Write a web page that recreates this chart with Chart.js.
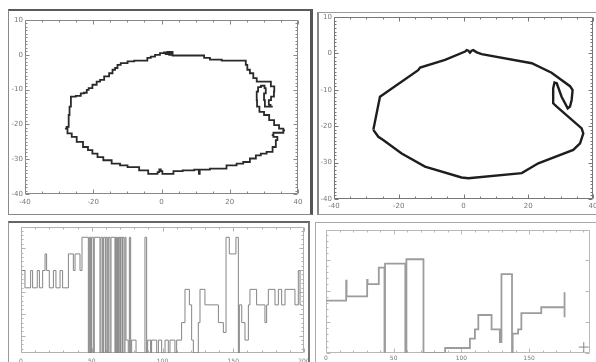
<!DOCTYPE html>
<html>
<head>
<meta charset="utf-8">
<script src="https://cdn.jsdelivr.net/npm/chart.js@4"></script>
<style>
html, body { margin:0; padding:0; background:#fff; }
body { width:596px; height:362px; position:relative; overflow:hidden; }
.box { position:absolute; box-sizing:border-box; }
canvas { position:absolute; }
#boxA { left:8px; top:9px; width:305px; height:206px; border:1px solid #8a8a8a; border-top:2px solid #5a5a5a; border-right:3px solid #555; }
#boxB { left:317px; top:12px; width:300px; height:203px; border:1px solid #9a9a9a; border-left:2px solid #888; }
#boxC { left:8px; top:221px; width:302px; height:160px; border:1px solid #999; border-top:2px solid #666; border-right:2px solid #777; }
#boxD { left:315px; top:222px; width:300px; height:160px; border:1px solid #aaa; }
</style>
</head>
<body>
<div class="box" id="boxA"></div>
<div class="box" id="boxB"></div>
<div class="box" id="boxC"></div>
<div class="box" id="boxD"></div>
<canvas id="outlineA" width="300" height="203" style="left:10px;top:11px"></canvas>
<canvas id="outlineB" width="277" height="199" style="left:319px;top:14px"></canvas>
<canvas id="traceC" width="298" height="139" style="left:10px;top:223px"></canvas>
<canvas id="traceD" width="280" height="138" style="left:316px;top:224px"></canvas>
<script>
//data

// top left: stair-stepped contour
const outlineAX = [-28.3,-27.3,-27.1,-26.8,-26.3,-23.9,-23.4,-22.1,-21.7,-21.0,
	-19.5,-18.5,-17.5,-16.1,-14.6,-14.1,-13.1,-12.7,-11.2,-8.7,
	-7.3,-4.4,-3.9,-2.4,-1.4,0.5,1.0,1.5,2.0,2.5,
	3.0,3.5,9.3,11.8,13.2,15.2,20.1,24.5,24.9,25.4,
	26.4,27.4,28.4,31.3,32.8,33.3,32.6,31.6,31.3,32.6,
	30.8,29.8,30.3,30.8,29.6,28.7,27.9,27.9,28.1,29.3,
	30.8,32.3,33.7,35.2,36.2,35.2,33.3,32.3,33.3,34.2,
	33.7,33.3,31.8,29.8,28.4,26.9,24.9,23.0,21.0,17.1,
	11.3,11.1,10.8,8.4,4.0,3.0,0.5,0.0,-0.4,-0.9,
	-1.4,-3.4,-4.4,-8.7,-11.2,-13.1,-16.1,-18.0,-19.5,-21.0,
	-22.1,-23.9,-25.8,-26.8,-28.3];
const outlineAY = [-21.2,-20.7,-17.3,-14.9,-12.0,-11.8,-11.1,-10.9,-10.1,-9.6,
	-8.6,-7.7,-7.2,-6.2,-5.3,-4.3,-3.8,-2.9,-2.4,-1.9,
	-1.7,-1.7,-0.9,-0.5,0.0,0.5,0.7,0.2,0.8,0.0,
	0.8,-0.2,-0.2,-0.2,-0.9,-1.4,-1.7,-1.7,-2.9,-4.3,
	-5.3,-6.7,-7.7,-7.7,-9.1,-10.6,-12.0,-13.0,-14.4,-14.9,
	-14.9,-13.0,-11.1,-9.6,-8.9,-9.3,-10.6,-13.0,-14.9,-16.4,
	-17.3,-18.8,-20.2,-21.2,-21.7,-22.4,-22.4,-23.1,-23.6,-23.6,
	-24.5,-26.5,-27.9,-28.4,-28.9,-29.8,-30.8,-31.3,-31.8,-32.7,
	-33.0,-34.2,-33.0,-33.2,-33.4,-34.2,-34.2,-33.4,-32.9,-33.7,
	-34.2,-34.2,-33.2,-32.3,-31.8,-31.3,-30.3,-29.4,-28.4,-27.4,
	-26.5,-25.0,-23.6,-22.6,-21.2];

// top right: smoothed contour
const outlineBX = [-27.85,-25.8,-14.0,-13.4,-5.7,0.5,1.0,1.5,2.0,2.5,3.0,4.1,5.6,21.1,27.2,
	32.9,33.7,33.4,32.9,32.2,30.3,28.8,28.1,27.7,27.7,28.8,
	36.5,37.0,36.0,33.9,23.1,18.0,1.5,-0.6,-11.9,-19.1,-24.8,-26.3,-27.85];
const outlineBY = [-21.0,-11.9,-4.6,-3.9,-1.8,0.5,0.9,0.75,0.2,0.75,0.9,0.3,-0.2,-2.7,-5.3,
	-9.0,-10.1,-12.8,-14.6,-15.1,-11.9,-8.2,-8.0,-9.6,-13.7,-14.6,
	-20.6,-22.0,-24.7,-26.5,-30.2,-32.9,-34.3,-34.1,-31.1,-27.5,-23.8,-22.9,-21.0];

const contourTicksX = [-40,-20,0,20,40];
const contourTicksY = [10,0,-10,-20,-30,-40];

// bottom left: step trace
const traceCX = [0.7,2.8,6.8,8.2,11.5,13.0,15.3,17.0,18.1,20.0,22.9,24.7,27.6,29.4,33.5,37.0,38.2,41.7,43.1,
	47.6,48.3,49.2,49.9,51.1,51.8,55.8,56.5,57.7,58.4,59.6,60.1,61.0,61.7,62.9,63.6,
	66.4,66.9,67.6,68.1,68.8,69.3,70.0,70.4,71.4,71.8,72.8,73.5,74.2,75.8,76.6,77.5,78.2,81.3,
	87.6,88.8,89.5,91.6,92.3,95.9,97.1,99.4,101.8,104.1,105.3,108.8,110.0,
	113.5,115.9,119.0,120.6,121.8,125.3,126.5,130.0,139.5,143.0,144.9,147.2,151.9,153.6,
	154.3,156.0,158.3,160.7,161.8,166.5,172.4,173.6,174.8,179.5,181.9,184.2,186.6,193.6,196.0,197.2,198.4];
const traceCY = [3.77,2.98,3.77,2.98,3.77,2.98,3.77,4.53,3.77,2.98,3.77,2.98,3.77,2.98,4.53,3.77,4.53,3.77,5.29,
	0,5.29,0,5.29,0,5.29,0,5.29,0,5.29,0,5.29,0,5.29,0,5.29,
	0,5.29,0,5.29,0,5.29,0,5.29,0,5.29,0,5.29,0.59,0,5.29,0,0.59,0,
	5.29,0,0.59,0,0.59,0,0.59,0,0.59,0,0.59,0,0.59,
	1.39,2.91,2.2,0.59,0,1.39,2.91,2.2,1.39,0.94,5.29,4.53,5.29,0,
	2.2,1.39,0.59,2.2,2.91,2.2,1.39,2.2,2.91,2.2,2.91,2.2,2.91,2.2,3.77,2.2,2.2];
const traceCTicksX = [0,50,100,150,200];

// bottom right: step trace
const traceDX = [0,14.9,15.2,30.4,30.7,39.0,43.2,43.6,58.6,59.4,72.0,88.0,106.3,110.0,112.5,
	122.3,128.4,129.6,137.4,137.9,141.9,144.3,159.0,176.2,176.2];
const traceDY = [1.68,2.32,1.82,2.35,2.21,2.74,0,2.87,0,3.01,0,0.16,0.46,0.76,1.22,
	0.76,0.35,2.53,0,0.62,0.76,1.28,1.47,1.95,1.15];
const traceDTicksX = [0,50,100,150];
const cursorD = [{x:190.4, y:0.19}];


//frame with inward ticks on all four sides

function isMajor(v, base, step){
	const q = (v - base) / step;
	return Math.abs(q - Math.round(q)) < 1e-6;
}

const frameTicks = {
	id: 'frameTicks',
	beforeDatasetsDraw(chart, args, o){
		const ctx = chart.ctx;
		const a = chart.chartArea;
		const xs = chart.scales.x;
		const ys = chart.scales.y;
		const L = Math.round(a.left) + 0.5, R = Math.round(a.right) - 0.5;
		const T = Math.round(a.top) + 0.5, B = Math.round(a.bottom) - 0.5;
		ctx.save();
		ctx.strokeStyle = o.color;
		ctx.lineWidth = 1;
		ctx.beginPath();
		ctx.rect(L, T, R - L, B - T);
		let n = Math.ceil(xs.min / o.xMinor);
		for(let v = n * o.xMinor; v <= xs.max + 1e-9; n++, v = n * o.xMinor){
			const p = Math.round(xs.getPixelForValue(v)) + 0.5;
			const len = isMajor(v, 0, o.xMajor) ? o.big : o.small;
			ctx.moveTo(p, B); ctx.lineTo(p, B - len);
			ctx.moveTo(p, T); ctx.lineTo(p, T + len);
		}
		const yb = o.yBase || 0;
		let k = Math.ceil((ys.min - yb) / o.yMinor);
		for(let v = yb + k * o.yMinor; v <= ys.max + 1e-9; k++, v = yb + k * o.yMinor){
			const p = Math.round(ys.getPixelForValue(v)) + 0.5;
			const major = isMajor(v, yb, o.yMajor);
			const len = major ? o.big : o.small;
			ctx.moveTo(L, p); ctx.lineTo(L + len, p);
			if(major || o.rightMinor){
				ctx.moveTo(R, p); ctx.lineTo(R - len, p);
			}
		}
		ctx.stroke();
		ctx.restore();
	}
};


function drawPanel(id, cfg){
	const pts = cfg.xs.map(function(x, i){ return {x: x, y: cfg.ys[i]}; });
	const datasets = [{
		data: pts,
		showLine: true,
		borderColor: cfg.line,
		borderWidth: cfg.lw,
		pointRadius: 0,
		stepped: cfg.stepped || false,
		tension: 0
	}];
	if(cfg.extra){
		datasets.push(cfg.extra);
	}
	return new Chart(document.getElementById(id), {
		type: 'scatter',
		data: {datasets: datasets},
		options: {
			responsive: false,
			animation: false,
			events: [],
			layout: {padding: {top: cfg.pad[0], right: cfg.pad[1], bottom: 0, left: 0}},
			plugins: {
				legend: {display: false},
				tooltip: {enabled: false},
				frameTicks: cfg.frame
			},
			scales: {
				x: {
					type: 'linear', min: cfg.xMin, max: cfg.xMax,
					grid: {display: false, drawTicks: false},
					border: {display: false},
					afterBuildTicks: function(s){ s.ticks = cfg.xTicks.map(function(v){ return {value: v}; }); },
					ticks: {padding: cfg.xPad, color: '#777', maxRotation: 0, autoSkip: false,
						font: {family: 'DejaVu Sans', size: cfg.fs}},
					afterFit: function(s){ s.height = cfg.xH; s.paddingLeft = 0; s.paddingRight = 0; }
				},
				y: {
					type: 'linear', min: cfg.yMin, max: cfg.yMax,
					grid: {display: false, drawTicks: false},
					border: {display: false},
					afterBuildTicks: function(s){ if(cfg.yTicks){ s.ticks = cfg.yTicks.map(function(v){ return {value: v}; }); } },
					ticks: {display: !!cfg.yTicks, padding: 2, color: '#777', autoSkip: false,
						font: {family: 'DejaVu Sans', size: cfg.fs}},
					afterFit: function(s){ s.width = cfg.yW; s.paddingTop = 0; s.paddingBottom = 0; }
				}
			}
		},
		plugins: [frameTicks]
	});
}


drawPanel('outlineA', {
	xs: outlineAX, ys: outlineAY, line: '#2a2a2a', lw: 1.8, stepped: 'middle',
	xMin: -40, xMax: 40, yMin: -40, yMax: 10,
	xTicks: contourTicksX, yTicks: contourTicksY,
	pad: [9, 12], xH: 20, yW: 15, xPad: 4, fs: 7,
	frame: {color: '#888', xMinor: 5, xMajor: 20, yMinor: 1, yMajor: 10, big: 4, small: 2, rightMinor: true}
});

drawPanel('outlineB', {
	xs: outlineBX, ys: outlineBY, line: '#1e1e1e', lw: 2.4,
	xMin: -40, xMax: 40, yMin: -40, yMax: 10,
	xTicks: contourTicksX, yTicks: contourTicksY,
	pad: [3, 3], xH: 14, yW: 15, xPad: 3, fs: 7,
	frame: {color: '#777', xMinor: 5, xMajor: 20, yMinor: 1, yMajor: 10, big: 4, small: 2, rightMinor: true}
});

drawPanel('traceC', {
	xs: traceCX, ys: traceCY, line: '#858585', lw: 1, stepped: 'before',
	xMin: 0, xMax: 200, yMin: 0, yMax: 5.76,
	xTicks: traceCTicksX, yTicks: null,
	pad: [4, 4], xH: 9, yW: 11, xPad: 5, fs: 6,
	frame: {color: '#b0b0b0', xMinor: 10, xMajor: 50, yMinor: 0.2, yMajor: 1, yBase: 0.79, big: 4, small: 2, rightMinor: true}
});

drawPanel('traceD', {
	xs: traceDX, ys: traceDY, line: '#9c9c9c', lw: 1.8, stepped: 'before',
	xMin: 0, xMax: 195, yMin: 0, yMax: 3.95,
	xTicks: traceDTicksX, yTicks: null,
	pad: [5, 4], xH: 9, yW: 10, xPad: 2, fs: 6,
	frame: {color: '#b8b8b8', xMinor: 10, xMajor: 50, yMinor: 0.2, yMajor: 1, big: 4, small: 2, rightMinor: false},
	extra: {data: cursorD, pointStyle: 'cross', pointRadius: 5, borderColor: '#888', borderWidth: 1, showLine: false}
});
</script>
</body>
</html>
